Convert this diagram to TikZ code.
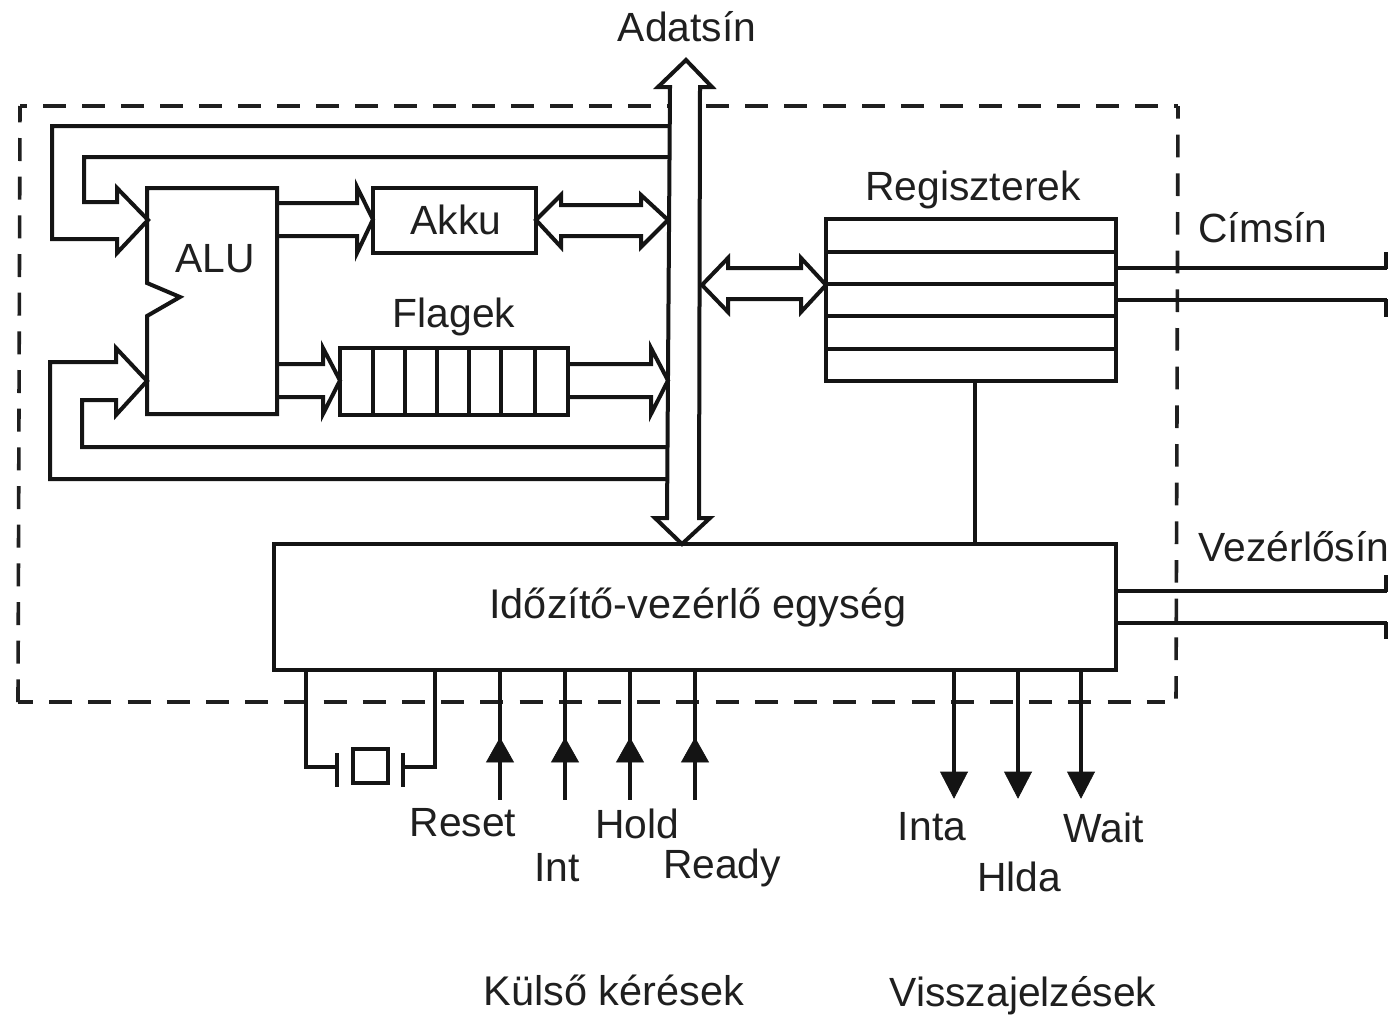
\documentclass[tikz,border=0pt]{standalone}
\usepackage{fontspec}
\setmainfont{Liberation Sans}
\tikzset{
  x=0.75pt,y=-0.75pt,
  ln/.style={line width=3pt,line join=miter,black!92},
  thin ln/.style={line width=2.8pt,black!92},
  dash h/.style={line width=2.7pt,black!88},
  box/.style={draw=black!92,line width=2.8pt,fill=white,inner sep=0pt,outer sep=0pt,anchor=north west},
  lab/.style={font=\fontsize{30.6pt}{32pt}\selectfont,text=black!88,inner sep=0pt,anchor=base},
  wide lab/.style={font=\fontsize{31.1pt}{32pt}\selectfont,text=black!88,inner sep=0pt,anchor=base},
  solid tip/.style={fill=black!92,draw=black!92,line width=.5pt},
}
\newcommand{\hollowR}[5]{% x0,x1(head base),tip, top-line y, bottom-line y
  \draw[ln] (#1,#4) -- (#2,#4) -- (#2,#4-16) -- (#3,{(#4+#5)/2}) -- (#2,#5+17) -- (#2,#5) -- (#1,#5);}
\begin{document}
\begin{tikzpicture}
\useasboundingbox (0,0) rectangle (1388,1014);
\fill[white] (0,0) rectangle (1388,1014);
% dashed unit outline
\coordinate (d1) at (20,106); \coordinate (d2) at (1178,106);
\coordinate (d3) at (1176,702); \coordinate (d4) at (18,702); \coordinate (d5) at (1165,702);
\draw[dash h,dash pattern=on 17.25pt off 12pt,dash phase=12pt] (d1) -- (d2);
\draw[dash h,dash pattern=on 17pt off 12pt,dash phase=7.5pt] (d2) -- (d3);
\draw[dash h,dash pattern=on 17.25pt off 12.15pt,dash phase=6pt] (d4) -- (d5);
\draw[dash h,dash pattern=on 17.25pt off 11.75pt,dash phase=5pt] (d1) -- (d4);
% boxes
\path[draw=black!92,line width=3pt,fill=white]
  (147,188) coordinate (alu nw) -- (277,188) -- (277,414) -- (147,414) -- (147,316) -- (180,297) -- (147,283) -- cycle;
\node[lab] (alu) at (215,272) {ALU};
\node[box,minimum width=122.25pt,minimum height=48.75pt] (akku) at (373,188) {};
\node[lab] (akkut) at (456,234) {Akku};
\node[box,minimum width=171pt,minimum height=50.25pt] (flag) at (340,348) {};
\foreach \x in {372.5,405,437,469,501,535} \draw[ln] (\x,348) -- (\x,415);
\node[lab] (flagt) at (454,327) {Flagek};
\node[box,minimum width=217.5pt,minimum height=121.5pt] (reg) at (826,219) {};
\foreach \y in {252,284,316,349} \draw[ln] (826,\y) -- (1116,\y);
\node[lab] (regt) at (973,200) {Regiszterek};
\node[box,minimum width=631.5pt,minimum height=94.5pt] (ctl) at (274,544) {};
\node[wide lab] (ctlt) at (698,618) {Időzítő-vezérlő egység};
% data bus
\path[draw=black!92,line width=3pt,fill=white]
  (686,60) coordinate (bus top) -- (712,87) -- (700,87) -- (699,518) -- (710,518) -- (682,544) coordinate (bus bot)
  -- (655,518) -- (667,518) -- (670,87) -- (658,87) -- cycle;
% feedback paths
\draw[ln] (668,157) -- (84,157) -- (84,202) -- (117,202) -- (117,188) -- (148,220) -- (117,253) -- (117,239) -- (52,239) -- (52,126) -- (668,126);
\draw[ln] (668,447) -- (82,447) -- (82,400) -- (116,400) -- (116,415) -- (147,381) -- (116,348) -- (116,362) -- (50,362) -- (50,479) -- (668,479);
% wide arrows
\hollowR{277}{357}{373}{203}{236}
\hollowR{277}{323}{340}{364}{397}
\hollowR{568}{651}{668}{364}{397}
\draw[ln] (536,220) -- (561,195) -- (561,205) -- (641,205) -- (641,195) -- (668,220) -- (641,247) -- (641,236) -- (561,236) -- (561,247) -- cycle;
\draw[ln] (702,285) -- (728,258) -- (728,268) -- (801,268) -- (801,258) -- (826,285) -- (801,312) -- (801,299) -- (728,299) -- (728,312) -- cycle;
% regs to control
\draw[ln] (975,381) -- (975,544);
% address and control lines
\coordinate (a1) at (1387,268); \coordinate (a2) at (1387,300);
\coordinate (c1) at (1387,591); \coordinate (c2) at (1387,623);
\draw[ln] (1116,268) -- (a1) (1116,300) -- (a2) (1115,591) -- (c1) (1115,623) -- (c2);
\draw[ln] (1386,252) -- (1386,269) (1386,299) -- (1386,317) (1386,575) -- (1386,592) (1386,622) -- (1386,639);
% crystal
\draw[ln] (306,669) -- (306,767) -- (337,767);
\draw[ln] (435,669) -- (435,767) -- (403,767);
\draw[ln] (337,753) -- (337,787) (403,753) -- (403,787);
\draw[ln] (353,749) rectangle (388,783);
% input lines
\foreach \x in {500,565,630,695} {
  \draw[thin ln] (\x,669) -- (\x,800);
  \fill[solid tip] (\x,738) -- (\x+13.5,762) -- (\x-13.5,762) -- cycle;
}
% output lines
\foreach \x in {954,1018,1081} {
  \draw[thin ln] (\x,669) -- (\x,785);
  \fill[solid tip] (\x,798) -- (\x+13.5,772) -- (\x-13.5,772) -- cycle;
}
% labels
\node[lab] (t1) at (687,41) {Adatsín};
\node[lab] (t2) at (1263,242) {Címsín};
\node[lab] (t3) at (1294,561) {Vezérlősín};
\node[lab] (t4) at (463,836) {Reset};
\node[lab] (t5) at (557,881) {Int};
\node[lab] (t6) at (637,838) {Hold};
\node[lab] (t7) at (722,878) {Ready};
\node[lab] (t8) at (932,840) {Inta};
\node[lab] (t9) at (1019,891) {Hlda};
\node[lab] (t10) at (1104,842) {Wait};
\node[wide lab] (t11) at (614,1005) {Külső kérések};
\node[lab] (t12) at (1023,1006) {Visszajelzések};
\end{tikzpicture}
\end{document}
